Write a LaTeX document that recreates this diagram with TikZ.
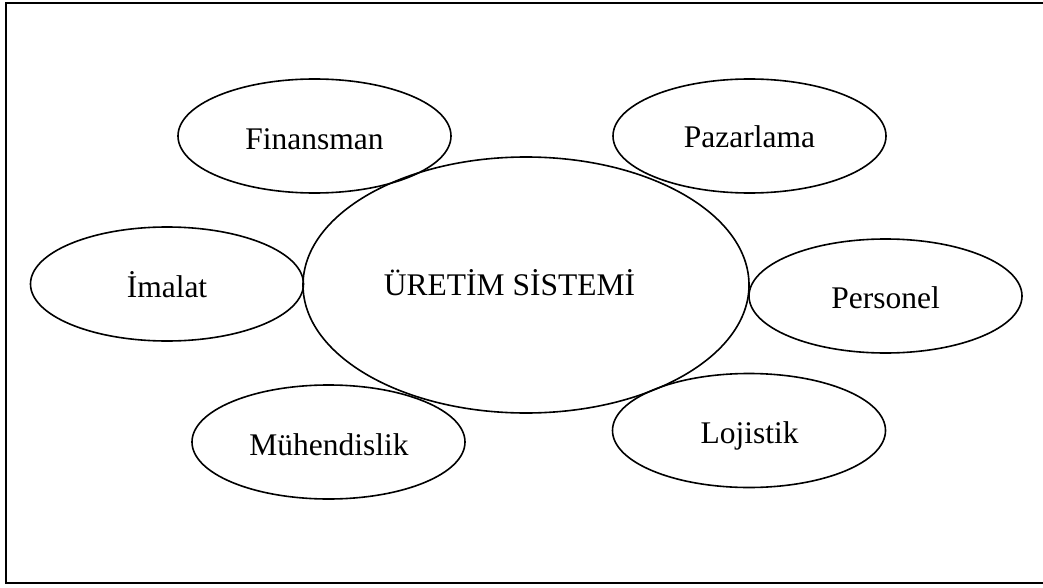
\documentclass[tikz,border=0pt]{standalone}
\usepackage{fontspec}
\setmainfont{Liberation Serif}
\usetikzlibrary{shapes.geometric}
\begin{document}
\begin{tikzpicture}[x=1pt,y=-1pt,
  unit/.style={draw=black,line width=1.6pt,ellipse,inner sep=0pt,
    minimum width=273pt,minimum height=114pt},
  hub/.style={draw=black,line width=1.6pt,ellipse,inner sep=0pt,
    minimum width=446pt,minimum height=256pt},
  caption/.style={anchor=base,inner sep=0pt,font=\fontsize{31.5}{36}\selectfont}]
\useasboundingbox (0,0) rectangle (1043,588);
% page frame, open on the right
\draw[line width=2.2pt] (1043,3) coordinate (ftr) -- (6,3) -- (6,583) -- (1043,583) coordinate (fbr);
% central system
\node[hub] (uretim) at (526,285) {};
\node[caption] (turetim) at (509.5,295) {ÜRETİM SİSTEMİ};
% surrounding functions
\node[unit] (finansman) at (314.5,136) {};
\node[caption] (tfinansman) at (314.5,150) {Finansman};
\node[unit] (pazarlama) at (749.5,136) {};
\node[caption] (tpazarlama) at (749.5,148) {Pazarlama};
\node[unit] (imalat) at (167,284) {};
\node[caption] (timalat) at (167,297) {İmalat};
\node[unit] (personel) at (885.5,296) {};
\node[caption] (tpersonel) at (885.5,308) {Personel};
\node[unit] (muhendislik) at (328.5,442) {};
\node[caption] (tmuhendislik) at (329,455) {Mühendislik};
\node[unit] (lojistik) at (749,430.5) {};
\node[caption] (tlojistik) at (749.5,443) {Lojistik};
\end{tikzpicture}
\end{document}
